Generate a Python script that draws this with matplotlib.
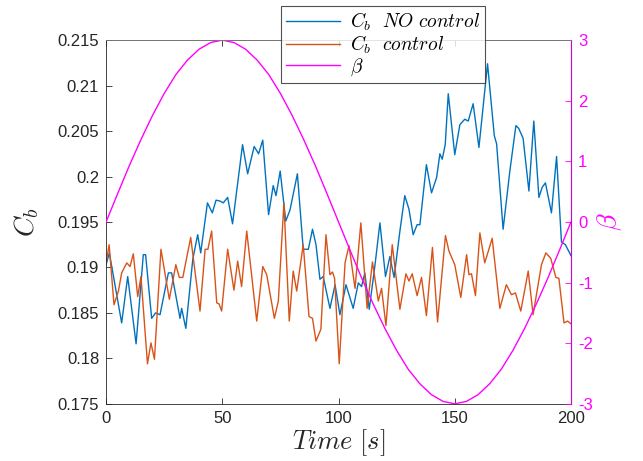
import numpy as np
import matplotlib
matplotlib.use('Agg')
import matplotlib.pyplot as plt

plt.rcParams['font.family'] = ['Liberation Sans', 'DejaVu Sans']
plt.rcParams['mathtext.fontset'] = 'cm'
plt.rcParams['axes.unicode_minus'] = False

# C_b without control (time [s], value)
t_nc = [0.0, 1.4, 6.7, 9.3, 12.9, 16.0, 17.0, 19.6, 21.3, 23.2, 26.8, 28.2, 31.8, 32.5,
        34.3, 37.3, 39.4, 40.7, 43.6, 45.7, 47.3, 49.0, 50.4, 52.3, 54.4, 58.7, 60.9,
        63.7, 65.6, 67.4, 69.9, 71.9, 73.1, 74.9, 77.3, 79.1, 82.3, 84.8, 87.0, 88.8,
        90.3, 92.0, 93.4, 96.3, 98.5, 100.6, 103.2, 106.3, 108.5, 109.9, 111.3, 113.2,
        115.7, 117.8, 120.2, 122.1, 123.9, 126.4, 128.5, 130.3, 132.1, 133.8, 135.0,
        137.8, 140.0, 142.2, 143.6, 144.6, 145.9, 147.2, 150.0, 152.2, 154.3, 155.8,
        157.9, 160.4, 164.1, 167.0, 168.0, 170.8, 173.7, 176.3, 177.5, 179.4, 181.9,
        184.0, 186.2, 187.6, 189.0, 191.6, 193.8, 195.9, 197.6, 200.0]
cb_nc = [0.1903, 0.1916, 0.1839, 0.1890, 0.1816, 0.1914, 0.1914, 0.1844, 0.1850, 0.1848,
         0.1894, 0.1894, 0.1844, 0.1855, 0.1833, 0.1909, 0.1936, 0.1916, 0.1971, 0.1960,
         0.1974, 0.1973, 0.1971, 0.1977, 0.1948, 0.2035, 0.2003, 0.2033, 0.2025, 0.2040,
         0.1958, 0.1990, 0.1979, 0.2006, 0.1951, 0.1963, 0.2003, 0.1920, 0.1920, 0.1942,
         0.1925, 0.1887, 0.1890, 0.1855, 0.1881, 0.1848, 0.1881, 0.1855, 0.1883, 0.1879,
         0.1894, 0.1854, 0.1903, 0.1949, 0.1890, 0.1912, 0.1889, 0.1940, 0.1979, 0.1964,
         0.1936, 0.1947, 0.1947, 0.2013, 0.1982, 0.1999, 0.2025, 0.2019, 0.2035, 0.2091,
         0.2024, 0.2057, 0.2063, 0.2061, 0.2080, 0.2032, 0.2124, 0.2045, 0.2036, 0.1942,
         0.2006, 0.2056, 0.2053, 0.2042, 0.1984, 0.2061, 0.1977, 0.1988, 0.1993, 0.1960,
         0.2022, 0.1928, 0.1925, 0.1913]

# C_b with control
t_c = [0.0, 1.3, 3.4, 5.3, 6.7, 8.9, 10.3, 11.7, 13.6, 15.0, 17.8, 19.3, 20.8, 23.6,
       27.2, 30.0, 31.5, 33.0, 36.4, 40.4, 42.6, 43.8, 45.4, 47.6, 48.6, 49.7, 52.3,
       55.0, 56.6, 58.3, 60.5, 64.8, 67.4, 69.1, 72.4, 74.1, 76.5, 78.8, 80.5, 82.0,
       84.8, 87.3, 88.8, 90.3, 92.4, 94.6, 96.3, 97.4, 98.3, 100.3, 102.8, 104.5, 107.1,
       109.6, 112.3, 114.6, 117.1, 118.5, 120.4, 123.1, 126.4, 129.0, 130.3, 131.7,
       133.8, 135.7, 137.8, 140.4, 142.6, 146.0, 147.5, 150.0, 152.6, 155.1, 156.1,
       157.2, 158.9, 160.8, 162.9, 166.1, 169.4, 172.2, 174.4, 176.1, 178.4, 181.6,
       183.7, 187.3, 189.2, 191.3, 193.5, 194.8, 197.0, 198.5, 200.0]
cb_c = [0.1905, 0.1925, 0.1859, 0.1874, 0.1894, 0.1905, 0.1901, 0.1915, 0.1868, 0.1890,
        0.1794, 0.1817, 0.1799, 0.1920, 0.1865, 0.1903, 0.1889, 0.1889, 0.1933, 0.1852,
        0.1920, 0.1920, 0.1940, 0.1861, 0.1860, 0.1852, 0.1920, 0.1875, 0.1907, 0.1879,
        0.1940, 0.1841, 0.1901, 0.1892, 0.1844, 0.1863, 0.1971, 0.1841, 0.1896, 0.1874,
        0.1925, 0.1846, 0.1844, 0.1819, 0.1832, 0.1936, 0.1892, 0.1895, 0.1888, 0.1794,
        0.1905, 0.1924, 0.1877, 0.1949, 0.1855, 0.1906, 0.1863, 0.1877, 0.1836, 0.1925,
        0.1854, 0.1893, 0.1885, 0.1893, 0.1869, 0.1889, 0.1847, 0.1922, 0.1840, 0.1935,
        0.1918, 0.1903, 0.1867, 0.1914, 0.1892, 0.1893, 0.1869, 0.1938, 0.1905, 0.1932,
        0.1855, 0.1881, 0.1870, 0.1872, 0.1852, 0.1896, 0.1848, 0.1903, 0.1916, 0.1910,
        0.1889, 0.1888, 0.1839, 0.1841, 0.1838]

# beta read every 5 s
t_beta = list(range(0, 201, 5))
beta = [0, 0.47, 0.93, 1.36, 1.76, 2.12, 2.43, 2.67, 2.85, 2.96, 3.0,
        2.96, 2.85, 2.67, 2.43, 2.12, 1.76, 1.36, 0.93, 0.47, 0,
        -0.47, -0.93, -1.36, -1.76, -2.12, -2.43, -2.67, -2.85, -2.96, -3.0,
        -2.96, -2.85, -2.67, -2.43, -2.12, -1.76, -1.36, -0.93, -0.47, 0]

x_ticks = [0, 50, 100, 150, 200]
left_ticks = [0.175, 0.18, 0.185, 0.19, 0.195, 0.2, 0.205, 0.21, 0.215]
left_labels = ['0.175', '0.18', '0.185', '0.19', '0.195', '0.2', '0.205', '0.21', '0.215']
right_ticks = [-3, -2, -1, 0, 1, 2, 3]

blue = '#0072BD'
orange = '#D95319'
mag = '#FF00FF'
axc = '#262626'

fig = plt.figure(figsize=(6.43, 4.61), dpi=100)
ax = fig.add_axes([0.165, 0.124, 0.723, 0.789])
ax2 = ax.twinx()

l1, = ax.plot(t_nc, cb_nc, color=blue, lw=1.0, solid_joinstyle='round')
l2, = ax.plot(t_c, cb_c, color=orange, lw=1.0, solid_joinstyle='round')
l3, = ax2.plot(t_beta, beta, color=mag, lw=1.0)

ax.set_xlim(0, 200)
ax.set_ylim(0.175, 0.215)
ax.set_xticks(x_ticks)
ax.set_yticks(left_ticks)
ax.set_yticklabels(left_labels)
ax2.set_ylim(-3, 3)
ax2.set_yticks(right_ticks)

ax.tick_params(direction='in', labelsize=12, colors=axc, top=True, length=4, width=0.6, pad=5)
ax2.tick_params(direction='in', labelsize=12, colors=mag, length=4, width=0.6, pad=5)
for s in ['left', 'bottom', 'top']:
    ax.spines[s].set_color(axc)
    ax.spines[s].set_linewidth(0.6)
ax2.spines['right'].set_color(mag)
ax2.spines['right'].set_linewidth(0.6)
ax2.spines['top'].set_color('#808080')
ax2.spines['top'].set_linewidth(0.6)
for s in ['left', 'bottom']:
    ax2.spines[s].set_visible(False)

ax.set_xlabel(r'$Time\ [s]$', fontsize=19, color=axc, labelpad=1)
ax.set_ylabel(r'$C_b$', fontsize=20, color=axc, labelpad=12)
ax2.set_ylabel(r'$\beta$', fontsize=20, color=mag, labelpad=2)

leg = fig.legend([l1, l2, l3],
                 [r'$C_b\ \ NO\ control$', r'$C_b\ \ control$', r'$\beta$'],
                 loc='upper center', bbox_to_anchor=(0.596, 0.987), borderaxespad=0,
                 fontsize=14, frameon=True, fancybox=False, handlelength=2.8,
                 handletextpad=0.5, borderpad=0.25, labelspacing=0.02)
leg.get_frame().set_edgecolor(axc)
leg.get_frame().set_linewidth(0.8)
leg.set_zorder(10)

fig.savefig('out.png', dpi=100)
